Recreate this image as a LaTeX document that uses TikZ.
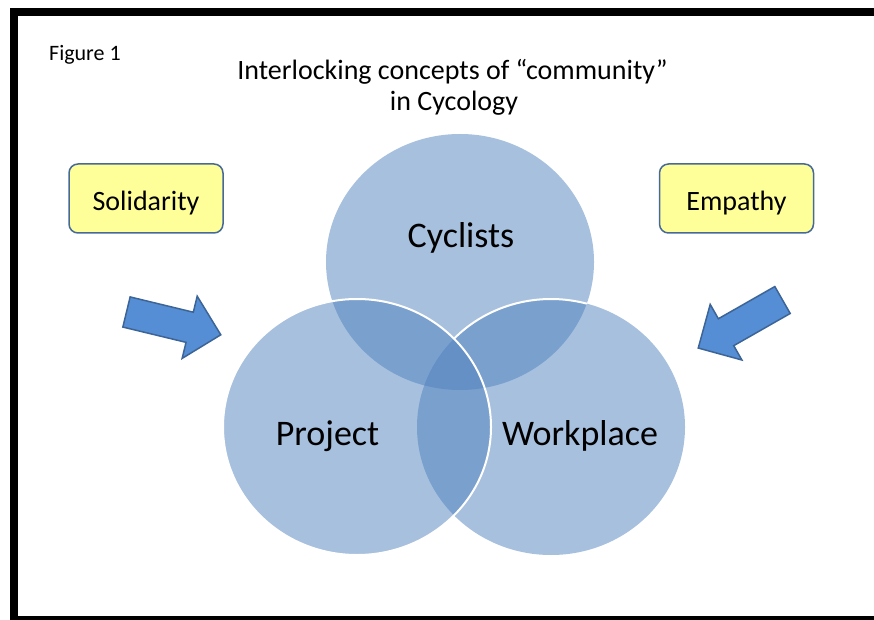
\documentclass[tikz,border=0pt]{standalone}
\usepackage{fontspec}
\setmainfont{Carlito}

\definecolor{vennblue}{HTML}{4F81BD}
\definecolor{arrowblue}{HTML}{558ED5}
\definecolor{arrowline}{HTML}{3C6496}
\definecolor{tagfill}{HTML}{FFFF99}
\definecolor{tagline}{HTML}{46699A}

\begin{document}
\begin{tikzpicture}[x=1pt, y=1pt,
    venn/.style={fill=vennblue, fill opacity=0.5},
    rim/.style={draw=white, line width=2pt},
    blockarrow/.style={fill=arrowblue, draw=arrowline, line width=1.5pt, line join=miter},
    tag/.style={draw=tagline, fill=tagfill, line width=1.5pt, rounded corners=9pt,
      minimum width=154pt, minimum height=69pt, inner sep=0pt,
      text height=25pt, text depth=0pt,
      font=\fontsize{28}{28}\selectfont},
    setname/.style={anchor=base, inner sep=0pt, font=\fontsize{36}{36}\selectfont},
    heading/.style={anchor=base, inner sep=0pt, font=\fontsize{28}{28}\selectfont}]

  \useasboundingbox (0,0) rectangle (874,619);
  \clip (0,0) rectangle (874,619);

  % frame
  \draw [line width=8pt] (14,-0.5) rectangle (880,607);

  % set centres
  \coordinate (cyc) at (460,357);
  \coordinate (wrk) at (551,192);
  \coordinate (prj) at (357,192);

  % Draw sets
  \foreach \c in {cyc,wrk,prj}
    \path [venn] (\c) ellipse [x radius=134pt, y radius=128pt];

  % white rims -- workplace only over cyclists, project all round
  \draw [rim] ([shift={(74.5:134pt and 128pt)}]wrk)
    arc [start angle=74.5, end angle=136.4, x radius=134pt, y radius=128pt];
  \draw [rim] (prj) ellipse [x radius=134pt, y radius=128pt];

  % set names
  \node [setname] (cyclists) at (461,371) {Cyclists};
  \node [setname] (project) at (327.5,174) {Project};
  \node [setname] (workplace) at (580,174) {Workplace};

  % side tags
  \node [tag] (solidarity) at (146,420.5) {Solidarity};
  \node [tag] (empathy) at (736.5,420.5) {Empathy};

  % block arrows
  \foreach \px/\py/\ang in {126.5/307/-13.6, 782.5/319/209.7}
    \path [blockarrow, shift={(\px,\py)}, rotate=\ang]
    (0,15.5) -- (65,15.5) -- (65,32) -- (97,0) --
    (65,-32) -- (65,-15.5) -- (0,-15.5) -- cycle;

  % heading
  \node [anchor=base west, inner sep=0pt, font=\fontsize{22}{22}\selectfont]
    (fignum) at (49,558) {Figure 1};
  \node [heading] (title) at (452.5,539) {Interlocking concepts of “community”};
  \node [heading] (subtitle) at (454,508) {in Cycology};
\end{tikzpicture}
\end{document}
